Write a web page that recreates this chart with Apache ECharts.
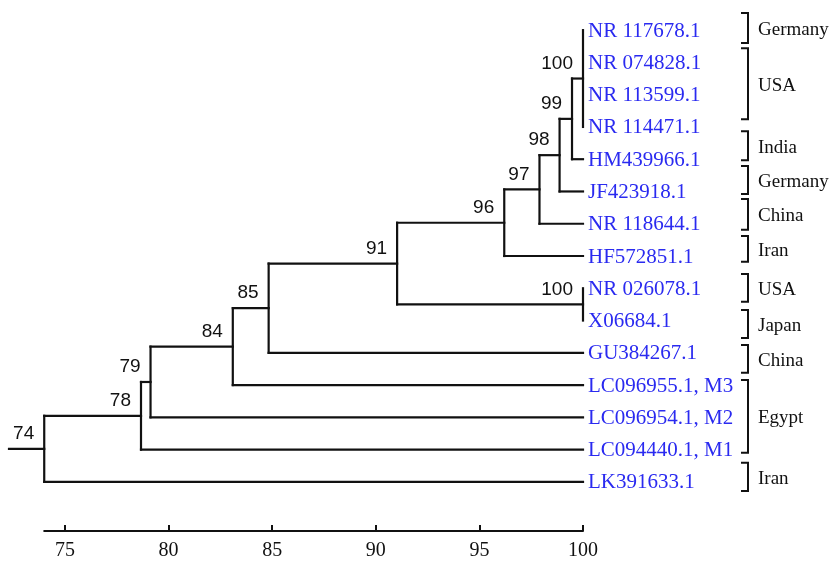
<!DOCTYPE html>
<html>
<head>
<meta charset="utf-8">
<script src="https://cdn.jsdelivr.net/npm/echarts@6/dist/echarts.min.js"></script>
<style>
html,body{margin:0;padding:0;background:#fff;}
#chart{width:832px;height:561px;}
</style>
</head>
<body>
<div id="chart"></div>
<script>
// ---- data ----
const leafNames = ['NR 117678.1','NR 074828.1','NR 113599.1','NR 114471.1','HM439966.1','JF423918.1','NR 118644.1','HF572851.1','NR 026078.1','X06684.1','GU384267.1','LC096955.1, M3','LC096954.1, M2','LC094440.1, M1','LK391633.1'];
const leafValues = [100,100,100,100,100,100,100,100,100,100,100,100,100,100,100];
const nodeIds = ['n74','n78','n79','n84','n85','n91','n96','n97','n98','n99','n100a','n100b'];
const nodeValues = [74, 78.67, 79.13, 83.1, 84.83, 91.03, 96.2, 97.9, 98.87, 99.47, 100, 100];
const nodeLabels = ['74','78','79','84','85','91','96','97','98','99','100','100'];
const nodeChildren = [
  ['n78', 14],
  ['n79', 13],
  ['n84', 12],
  ['n85', 11],
  ['n91', 10],
  ['n96', 'n100b'],
  ['n97', 7],
  ['n98', 6],
  ['n99', 5],
  ['n100a', 4],
  [0, 1, 2, 3],
  [8, 9]
];
const rootStubFrom = 72.3;
const scaleTicks = [75, 80, 85, 90, 95, 100];
const countryNames = ['Germany','USA','India','Germany','China','Iran','USA','Japan','China','Egypt','Iran'];
const bracketTop = [-0.53, 0.56, 3.13, 4.21, 5.23, 6.38, 7.56, 8.67, 9.76, 10.84, 13.41];
const bracketBottom = [0.40, 2.76, 4.03, 5.08, 6.19, 7.18, 8.42, 9.54, 10.62, 13.10, 14.28];

// ---- build tree geometry (in data units) ----
function nodeIndex(id){ return nodeIds.indexOf(id); }
function yOf(ref){
  if (typeof ref === 'number') return ref;
  const ch = nodeChildren[nodeIndex(ref)];
  return (yOf(ch[0]) + yOf(ch[ch.length-1])) / 2;
}
function xOf(ref){
  if (typeof ref === 'number') return leafValues[ref];
  return nodeValues[nodeIndex(ref)];
}
const segments = [];
nodeIds.forEach(function(id, i){
  const ch = nodeChildren[i];
  const x = nodeValues[i];
  segments.push([x, yOf(ch[0]), x, yOf(ch[ch.length-1])]);
  ch.forEach(function(c){
    if (xOf(c) > x) segments.push([x, yOf(c), xOf(c), yOf(c)]);
  });
});
segments.push([rootStubFrom, yOf('n74'), nodeValues[0], yOf('n74')]);

const nodePoints = nodeIds.map(function(id, i){ return [nodeValues[i], yOf(id), nodeLabels[i]]; });
const leafPoints = leafNames.map(function(n, i){ return [leafValues[i], i, n]; });
const bracketData = countryNames.map(function(c, i){ return [bracketTop[i], bracketBottom[i], c]; });

const chart = echarts.init(document.getElementById('chart'), null, {renderer: 'canvas'});
const LINE = '#111';
chart.setOption({
  backgroundColor: '#fff',
  animation: false,
  grid: [
    {left: 9, right: 249, top: 14, height: 484},
    {left: 44.2, right: 249, top: 503, height: 30}
  ],
  xAxis: [
    {gridIndex: 0, type: 'value', min: rootStubFrom, max: 100, show: false},
    {gridIndex: 1, type: 'value', min: 74, max: 100, position: 'bottom',
      axisLine: {show: true, lineStyle: {color: LINE, width: 2}},
      axisTick: {show: true, inside: true, length: 6, lineStyle: {color: LINE, width: 2}, customValues: scaleTicks},
      axisLabel: {show: true, margin: 10, color: '#111', fontFamily: 'Liberation Serif', fontSize: 20, customValues: scaleTicks},
      splitLine: {show: false}}
  ],
  yAxis: [
    {gridIndex: 0, type: 'value', min: -0.5, max: 14.5, inverse: true, show: false},
    {gridIndex: 1, type: 'value', min: 0, max: 1, show: false}
  ],
  series: [
    {
      type: 'custom', xAxisIndex: 0, yAxisIndex: 0, clip: false,
      data: segments,
      renderItem: function(params, api){
        const a = api.coord([api.value(0), api.value(1)]);
        const b = api.coord([api.value(2), api.value(3)]);
        return {type: 'line', shape: {x1: a[0], y1: a[1], x2: b[0], y2: b[1]},
          style: {stroke: LINE, lineWidth: 2.2, lineCap: 'square'}};
      }
    },
    {
      type: 'custom', xAxisIndex: 0, yAxisIndex: 0, clip: false,
      data: nodePoints,
      renderItem: function(params, api){
        const p = api.coord([api.value(0), api.value(1)]);
        return {type: 'text', x: p[0] - 10, y: p[1] - 15,
          style: {text: nodeLabels[params.dataIndex], fill: '#111', fontFamily: 'Liberation Sans', fontSize: 19, align: 'right', verticalAlign: 'middle'}};
      }
    },
    {
      type: 'custom', xAxisIndex: 0, yAxisIndex: 0, clip: false,
      data: leafPoints,
      renderItem: function(params, api){
        const p = api.coord([api.value(0), api.value(1)]);
        return {type: 'text', x: p[0] + 5, y: p[1] + 1,
          style: {text: leafNames[params.dataIndex], fill: '#2a2af0', fontFamily: 'Liberation Serif', fontSize: 21, align: 'left', verticalAlign: 'middle'}};
      }
    },
    {
      type: 'custom', xAxisIndex: 0, yAxisIndex: 0, clip: false,
      data: bracketData,
      renderItem: function(params, api){
        const t = api.coord([100, api.value(0)])[1];
        const b = api.coord([100, api.value(1)])[1];
        const bx = 748, tx = 741;
        const mid = (t + b) / 2;
        return {type: 'group', children: [
          {type: 'polyline', shape: {points: [[tx, t], [bx, t], [bx, b], [tx, b]]},
            style: {stroke: LINE, lineWidth: 2, fill: null}},
          {type: 'text', x: 758, y: mid + 2,
            style: {text: countryNames[params.dataIndex], fill: '#111', fontFamily: 'Liberation Serif', fontSize: 19, align: 'left', verticalAlign: 'middle'}}
        ]};
      }
    }
  ]
});
</script>
</body>
</html>
